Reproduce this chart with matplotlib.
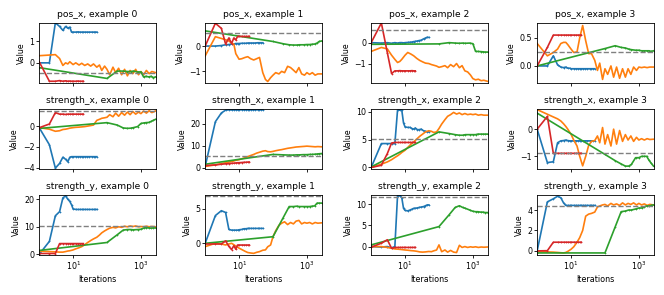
import matplotlib
matplotlib.use("Agg")
import matplotlib.pyplot as plt
import matplotlib.ticker as mticker

PARAMS = ["pos_x", "strength_x", "strength_y"]
EXAMPLES = [0, 1, 2, 3]

BLUE_IT = [1, 2, 3, 4, 5, 6, 7, 8, 9, 10, 12, 14, 16, 18, 20, 23, 26, 30, 35, 40, 45, 50]
RED_IT = [1, 2, 3, 4, 5, 6, 7, 8, 9, 10, 12, 14, 16, 18, 20]
ORANGE_IT = [1, 2, 3, 4, 5, 6, 7, 8,
             10, 12, 15, 18, 22, 27, 33, 40,
             50, 60, 70, 85, 100, 120, 150, 180,
             220, 270, 330, 400, 480, 580, 700, 850,
             1000, 1200, 1450, 1750, 2100, 2700]
GREEN_IT = [1, 100, 200, 300, 400, 500, 600, 800, 1000, 1200, 1400, 1700, 2000, 2300, 2700]

# true values (dashed line)
TRUE_POSX = [-0.45, 0.5, 0.61, 0.24]
TRUE_SX = [1.48, 5.3, 5.06, -0.89]
TRUE_SY = [10.2, 6.85, 11.56, 4.39]

# ---- pos_x ----
posx0_blue = [0, 0, 1.85, 1.68, 1.5, 1.68, 1.6, 1.65, 1.42, 1.42,
              1.42, 1.43, 1.42, 1.42, 1.42, 1.42, 1.42, 1.42, 1.42, 1.42, 1.42, 1.42]
posx0_red = [0.05, -0.85, -0.85, -0.82, -0.85, -0.83, -0.85, -0.84, -0.85, -0.85,
             -0.85, -0.84, -0.85, -0.85, -0.85]
posx0_orange = [0.33, 0.36, 0.38, 0.2, -0.12, 0.0, -0.05, 0.05,
                -0.08, 0.0, -0.1, -0.02, -0.12, -0.05, -0.15, -0.05,
                -0.2, -0.1, -0.35, -0.15, -0.3, -0.55, -0.2, -0.45,
                -0.25, -0.55, -0.3, -0.6, -0.35, -0.5, -0.3, -0.55,
                -0.4, -0.55, -0.35, -0.5, -0.4, -0.45]
posx0_green = [-0.22, -0.72, -0.38, -0.38, -0.4, -0.4, -0.38, -0.42, -0.42, -0.65,
               -0.62, -0.65, -0.62, -0.68, -0.65]

posx1_blue = [0, 0, 0.02, 0.05, 0.06, 0.08, 0.08, 0.1, 0.1, 0.1,
              0.11, 0.11, 0.11, 0.12, 0.12, 0.12, 0.12, 0.12, 0.13, 0.13, 0.13, 0.13]
posx1_red = [0, 0.9, 0.7, 0.08, 0.32, 0.1, 0.32, 0.24, 0.38, 0.38,
             0.38, 0.38, 0.38, 0.38, 0.38]
posx1_orange = [-0.39, 0.37, 0.3, 0.25, 0.2, 0.12, 0.08, -0.3,
                -0.52, -0.5, -0.45, -0.42, -0.5, -0.55, -0.5, -0.45,
                -1.05, -1.32, -1.4, -1.25, -1.15, -1.05, -1.1, -1.0,
                -1.05, -0.8, -0.85, -0.95, -1.05, -0.85, -1.1, -1.15,
                -1.05, -1.12, -1.05, -1.15, -1.1, -1.1]
posx1_green = [0.6, 0.18, 0.09, 0.05, 0.04, 0.04, 0.05, 0.05, 0.06, 0.06,
               0.07, 0.08, 0.12, 0.18, 0.2]

posx2_blue = [0, -0.02, 0, -0.03, 0, -0.02, 0, 0, -0.01, 0,
              0.01, 0.02, 0.03, 0.05, 0.06, 0.08, 0.1, 0.12, 0.18, 0.22, 0.26, 0.25]
posx2_red = [0, 0.94, -0.48, -1.48, -1.35, -1.35, -1.34, -1.35, -1.35, -1.35,
             -1.35, -1.35, -1.34, -1.35, -1.35]
posx2_orange = [-0.42, -0.23, -0.3, -0.6, -0.8, -0.95, -0.9, -0.8,
                -0.6, -0.47, -0.55, -0.63, -0.75, -0.85, -0.92, -0.98,
                -1.0, -1.05, -1.08, -1.12, -1.18, -1.15, -1.1, -1.2,
                -1.05, -1.15, -1.0, -1.2, -1.1, -1.35, -1.4, -1.55,
                -1.72, -1.78, -1.75, -1.82, -1.8, -1.85]
posx2_green = [-0.08, -0.06, 0.0, -0.02, -0.03, -0.02, -0.03, -0.02, -0.05, -0.42,
               -0.42, -0.43, -0.44, -0.45, -0.45]

posx3_blue = [0, 0, 0.18, 0.02, -0.02, -0.03, -0.02, -0.04, -0.04, -0.05,
              -0.05, -0.05, -0.05, -0.05, -0.05, -0.05, -0.05, -0.05, -0.05, -0.05, -0.05, -0.05]
posx3_red = [0, 0.33, 0.55, 0.55, 0.55, 0.55, 0.55, 0.55, 0.55, 0.55,
             0.55, 0.55, 0.55, 0.55, 0.55]
posx3_orange = [0.4, 0.18, 0.24, 0.3, 0.4, 0.42, 0.42, 0.38,
                0.3, 0.24, 0.25, 0.5, 0.72, 0.45, 0.22, 0.22,
                0.1, -0.08, 0.05, -0.24, -0.05, -0.15, 0.0, -0.2,
                -0.02, -0.22, -0.05, -0.2, -0.05, -0.15, -0.02, -0.08,
                -0.02, -0.03, -0.02, -0.03, -0.02, -0.02]
posx3_green = [0.0, 0.31, 0.36, 0.33, 0.32, 0.3, 0.29, 0.28, 0.28, 0.27,
               0.27, 0.27, 0.27, 0.26, 0.27]

# ---- strength_x ----
sx0_blue = [-0.15, -1.8, -4.05, -3.6, -3.0, -3.2, -3.44, -3.0, -2.95, -2.95,
            -2.95, -2.95, -2.95, -2.95, -2.95, -2.95, -2.95, -2.95, -2.95, -2.95, -2.95, -2.95]
sx0_red = [-0.16, 0.2, 1.3, 1.15, 1.15, 1.12, 1.15, 1.15, 1.15, 1.15,
           1.15, 1.15, 1.15, 1.15, 1.15]
sx0_orange = [-0.15, -0.3, -0.5, -0.45, -0.33, -0.3, -0.25, -0.2,
              -0.15, -0.12, -0.1, -0.08, -0.05, 0.0, 0.05, 0.1,
              0.55, 0.65, 0.75, 0.8, 0.85, 1.1, 0.9, 1.25,
              0.95, 1.3, 1.05, 1.35, 1.1, 1.4, 1.15, 1.35,
              1.2, 1.45, 1.25, 1.48, 1.3, 1.45]
sx0_green = [-0.23, 0.33, 0.1, -0.18, -0.22, -0.2, -0.15, -0.05, 0.25, 0.3,
             0.33, 0.35, 0.45, 0.55, 0.65]

sx1_blue = [0.5, 21.0, 25.0, 26.3, 26.5, 26.4, 26.5, 26.5, 26.4, 26.5,
            26.5, 26.5, 26.5, 26.5, 26.5, 26.5, 26.5, 26.5, 26.5, 26.5, 26.5, 26.5]
sx1_red = [0.9, 1.2, 1.5, 1.7, 1.8, 1.9, 2.0, 2.1, 2.2, 2.2,
           2.3, 2.4, 2.4, 2.5, 2.5]
sx1_orange = [0.5, 1.2, 1.8, 2.2, 2.5, 2.7, 3.0, 3.3,
              3.6, 4.0, 4.5, 5.0, 5.5, 6.0, 6.6, 7.0,
              7.5, 7.7, 7.3, 7.2, 7.4, 7.7, 8.0, 8.2,
              8.5, 8.8, 9.0, 9.2, 9.4, 9.5, 9.6, 9.7,
              9.8, 9.7, 9.6, 9.5, 9.6, 9.5]
sx1_green = [1.5, 6.0, 5.8, 5.7, 5.7, 5.8, 5.8, 5.9, 5.9, 6.0,
             6.0, 6.1, 6.2, 6.3, 6.4]

sx2_blue = [0, 4.3, 4.3, 4.3, 4.3, 10.3, 10.3, 10.3, 8.0, 7.3,
            7.2, 7.2, 7.0, 6.9, 7.1, 6.8, 6.8, 6.9, 6.6, 6.5, 6.4, 6.4]
sx2_red = [0, 0.4, 2.5, 4.4, 4.5, 4.5, 4.5, 4.5, 4.5, 4.5,
           4.5, 4.5, 4.5, 4.5, 4.5]
sx2_orange = [0.0, 0.6, 1.0, 1.4, 1.8, 2.1, 2.4, 2.7,
              3.1, 3.6, 4.2, 4.6, 5.1, 5.6, 6.0, 6.4,
              6.6, 6.5, 6.3, 6.4, 7.0, 7.8, 8.6, 9.2,
              9.5, 9.9, 9.6, 9.8, 9.5, 9.7, 9.5, 9.6,
              9.5, 9.6, 9.4, 9.5, 9.4, 9.4]
sx2_green = [0.1, 6.4, 6.1, 5.9, 5.8, 5.8, 5.9, 5.9, 5.9, 5.9,
             6.0, 6.0, 6.0, 6.0, 6.0]

sx3_blue = [0, -1.23, -1.2, -0.5, -0.43, -0.42, -0.4, -0.42, -0.43, -0.43,
            -0.43, -0.43, -0.43, -0.43, -0.43, -0.43, -0.43, -0.43, -0.43, -0.43, -0.43, -0.43]
sx3_red = [0, 0.47, -0.89, -0.89, -0.89, -0.89, -0.89, -0.89, -0.89, -0.89,
           -0.89, -0.89, -0.89, -0.89, -0.89]
sx3_orange = [0.72, 0.55, 0.45, 0.38, 0.3, 0.2, 0.1, 0.0,
              -0.19, -0.4, -0.62, -1.0, -1.35, -1.0, -0.6, -0.45,
              -0.42, -0.25, -0.5, 0.06, -0.55, -0.2, -0.62, 0.0,
              -0.55, -0.05, -0.45, -0.2, -0.4, -0.25, -0.45, -0.3,
              -0.4, -0.35, -0.4, -0.35, -0.38, -0.37]
sx3_green = [0.59, -0.93, -1.16, -1.28, -1.36, -1.36, -1.3, -1.05, -1.05, -1.0,
             -1.0, -1.0, -1.15, -1.25, -1.36]

# ---- strength_y ----
sy0_blue = [0, 4.7, 14.0, 15.5, 20.5, 21.2, 20.0, 19.2, 18.0, 16.5,
            16.3, 16.3, 16.3, 16.3, 16.3, 16.3, 16.3, 16.3, 16.3, 16.3, 16.3, 16.3]
sy0_red = [0.3, 0.3, 0.3, 3.9, 3.9, 3.9, 3.9, 3.9, 3.9, 3.9,
           3.9, 3.9, 3.9, 3.9, 3.9]
sy0_orange = [1.2, 1.0, 0.9, 0.8, 0.8, 1.0, 1.2, 1.3,
              1.6, 2.0, 2.4, 2.8, 3.5, 4.3, 5.0, 5.6,
              6.2, 7.0, 7.8, 8.5, 9.0, 9.5, 9.8, 9.6,
              10.0, 9.8, 10.2, 10.0, 10.3, 10.1, 10.3, 10.0,
              10.1, 10.0, 10.2, 10.0, 10.1, 10.0]
sy0_green = [1.4, 4.3, 7.1, 8.8, 9.0, 9.0, 8.9, 9.0, 9.1, 9.5,
             9.7, 9.6, 9.5, 9.6, 9.6]

sy1_blue = [0, 4.0, 4.7, 4.45, 2.0, 1.9, 1.9, 1.9, 1.9, 1.95,
            2.0, 2.1, 2.1, 2.15, 2.15, 2.15, 2.15, 2.15, 2.15, 2.15, 2.15, 2.15]
sy1_red = [-0.1, -0.1, -0.1, 0.35, -0.45, -0.9, -0.35, -0.85, -0.25, -0.25,
           -0.25, -0.25, -0.25, -0.25, -0.25]
sy1_orange = [-0.48, 0.0, -0.1, -0.24, -0.1, 0.0, -0.2, -0.4,
              -0.7, -0.9, -1.15, -1.33, -1.4, -1.45, -1.3, -1.2,
              -1.0, -0.95, -0.5, -0.24, 0.95, 1.8, 2.6, 2.9,
              3.1, 2.7, 3.0, 2.8, 3.2, 3.3, 2.8, 3.0,
              2.9, 3.0, 2.8, 3.0, 2.9, 2.95]
sy1_green = [0.0, 0.95, 3.7, 5.3, 5.3, 5.35, 5.3, 5.3, 5.3, 5.3,
             5.35, 5.4, 5.8, 5.8, 5.8]

sy2_blue = [0, -0.1, 0, -0.3, 0, 12.0, 12.0, 11.5, 9.0, 8.5,
            8.4, 8.6, 8.8, 9.0, 9.0, 9.1, 9.2, 9.3, 9.4, 9.6, 9.8, 9.8]
sy2_red = [-0.15, 0.8, 1.6, -0.4, -0.2, -0.2, -0.2, -0.2, -0.2, -0.2,
           -0.2, -0.2, -0.2, -0.2, -0.2]
sy2_orange = [0.0, 0.0, -0.2, -0.4, -0.55, -0.6, -0.65, -0.7,
              -0.8, -0.85, -0.95, -1.0, -1.1, -1.25, -1.3, -1.25,
              -1.15, -1.2, -1.0, -0.8, 0.4, -1.2, -0.8, -1.3,
              -0.9, -1.3, -1.4, 0.3, -0.2, 0.0, -0.2, -0.05,
              -0.15, -0.05, -0.2, -0.1, -0.15, -0.1]
sy2_green = [0.4, 4.7, 7.5, 9.2, 9.6, 9.2, 9.0, 8.6, 8.3, 8.2,
             8.2, 8.1, 8.1, 8.0, 8.0]

sy3_blue = [0, 4.8, 5.1, 5.35, 5.2, 4.7, 4.45, 4.45, 4.45, 4.45,
            4.45, 4.45, 4.45, 4.45, 4.45, 4.45, 4.45, 4.45, 4.45, 4.45, 4.45, 4.45]
sy3_red = [0, 0.02, 0.85, 0.85, 0.85, 0.85, 0.85, 0.85, 0.85, 0.85,
           0.85, 0.85, 0.85, 0.85, 0.85]
sy3_orange = [-0.06, -0.1, -0.12, -0.15, -0.18, -0.2, -0.15, -0.05,
              0.16, 0.4, 0.85, 1.3, 2.0, 3.4, 3.6, 3.67,
              3.8, 4.3, 4.4, 4.5, 4.55, 4.4, 4.65, 4.5,
              4.6, 4.45, 4.7, 4.5, 4.65, 4.55, 4.7, 4.5,
              4.65, 4.5, 4.6, 4.45, 4.55, 4.5]
sy3_green = [-0.2, -0.2, 2.35, 3.84, 3.9, 4.0, 4.0, 4.1, 4.2, 4.2,
             4.3, 4.4, 4.4, 4.45, 4.5]

rows = [
    [(posx0_blue, posx0_orange, posx0_green, posx0_red),
     (posx1_blue, posx1_orange, posx1_green, posx1_red),
     (posx2_blue, posx2_orange, posx2_green, posx2_red),
     (posx3_blue, posx3_orange, posx3_green, posx3_red)],
    [(sx0_blue, sx0_orange, sx0_green, sx0_red),
     (sx1_blue, sx1_orange, sx1_green, sx1_red),
     (sx2_blue, sx2_orange, sx2_green, sx2_red),
     (sx3_blue, sx3_orange, sx3_green, sx3_red)],
    [(sy0_blue, sy0_orange, sy0_green, sy0_red),
     (sy1_blue, sy1_orange, sy1_green, sy1_red),
     (sy2_blue, sy2_orange, sy2_green, sy2_red),
     (sy3_blue, sy3_orange, sy3_green, sy3_red)],
]
truths = [TRUE_POSX, TRUE_SX, TRUE_SY]

ylims = [
    [(-0.92, 1.84), (-1.45, 0.91), (-1.92, 0.94), (-0.30, 0.765)],
    [(-4.12, 1.64), (-0.6, 26.8), (-0.24, 10.5), (-1.46, 0.74)],
    [(-0.2, 21.5), (-1.67, 6.95), (-1.95, 12.1), (-0.39, 5.46)],
]

fig, axes = plt.subplots(3, 4, figsize=(6.64, 2.95), dpi=100, sharex=True)
fig.subplots_adjust(left=0.059, right=0.985, top=0.922, bottom=0.136,
                    wspace=0.42, hspace=0.44)

mk = dict(lw=1.2, marker="+", ms=1.8, mew=0.5)
for r, param in enumerate(PARAMS):
    for c, ex in enumerate(EXAMPLES):
        ax = axes[r, c]
        blue, orange, green, red = rows[r][c]
        ax.plot(BLUE_IT, blue, color="tab:blue", **mk)
        ax.plot(ORANGE_IT, orange, color="tab:orange", lw=1.2)
        ax.plot(GREEN_IT, green, color="tab:green", **mk)
        ax.plot(RED_IT, red, color="tab:red", **mk)
        ax.axhline(truths[r][c], color="gray", ls="--", lw=1.0)

        ax.set_xscale("log")
        ax.set_xlim(1, 2800)
        ax.set_ylim(*ylims[r][c])
        ax.yaxis.set_major_locator(mticker.MaxNLocator(nbins=3, steps=[1, 2, 2.5, 5, 10]))
        ax.set_title(f"{param}, example {ex}", fontsize=6.6, pad=4.5)
        ax.set_ylabel("Value", fontsize=5.7, labelpad=2.5)
        ax.tick_params(labelsize=5.7, length=2, width=0.6, pad=1.5)
        for s in ax.spines.values():
            s.set_linewidth(0.6)
        if r == 2:
            ax.set_xlabel("Iterations", fontsize=5.8, labelpad=2)

for ax in axes[2]:
    ax.set_xticks([10, 1000])
    ax.xaxis.set_minor_locator(mticker.NullLocator())

fig.savefig("out.png", dpi=100)
